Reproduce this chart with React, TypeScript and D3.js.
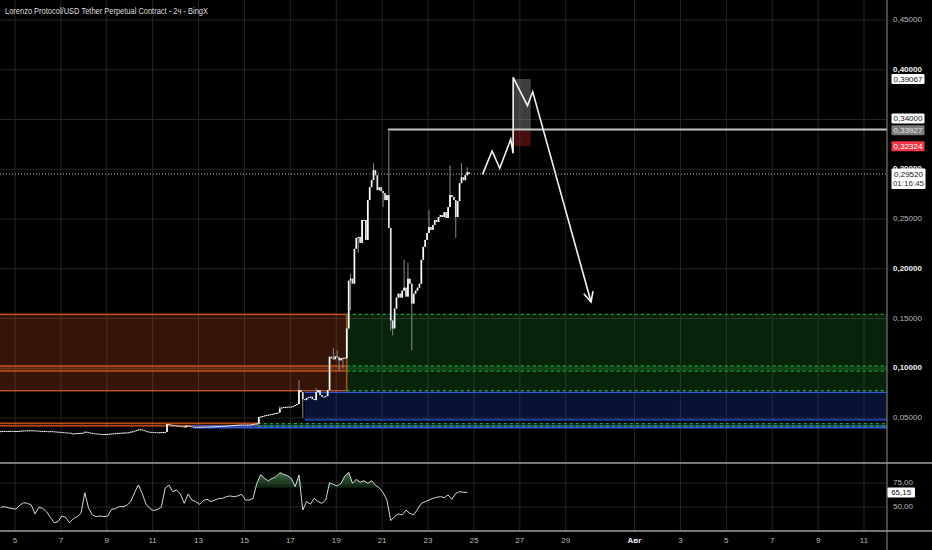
import React from "react";
import * as d3 from "d3";

const WIDTH = 932;
const HEIGHT = 550;
const AXIS_X = 887;
const PRICE_PANE_BOTTOM = 463;
const RSI_PANE_BOTTOM = 531;

const TITLE = "Lorenzo Protocol/USD Tether Perpetual Contract - 2ч - BingX";

// 2h candles, first candle opens 4 Jul 2025 08:00 UTC
const FIRST_CANDLE = Date.UTC(2025, 6, 4, 8);
const CANDLE_MS = 2 * 3600 * 1000;

const closes = [
  0.0368, 0.0370, 0.0369, 0.0367, 0.0369, 0.0371, 0.0370, 0.0368, 0.0369, 0.0370,
  0.0371, 0.0373, 0.0375, 0.0374, 0.0376, 0.0377, 0.0375, 0.0376, 0.0374, 0.0372,
  0.0371, 0.0369, 0.0368, 0.0369, 0.0367, 0.0366, 0.0368, 0.0366, 0.0364, 0.0362,
  0.0361, 0.0360, 0.0358, 0.0356, 0.0354, 0.0353, 0.0351, 0.0343, 0.0345, 0.0347,
  0.0349, 0.0350, 0.0351, 0.0352, 0.0362, 0.0358, 0.0354, 0.0350, 0.0347, 0.0345,
  0.0343, 0.0341, 0.0340, 0.0339, 0.0338, 0.0339, 0.0340, 0.0342, 0.0344, 0.0346,
  0.0348, 0.0350, 0.0351, 0.0352, 0.0353, 0.0355, 0.0354, 0.0356, 0.0362, 0.0366,
  0.0372, 0.0378, 0.0384, 0.0386, 0.0380, 0.0372, 0.0366, 0.0362, 0.0360, 0.0359,
  0.0358, 0.0357, 0.0356, 0.0357, 0.0358, 0.0359, 0.0360, 0.0440, 0.0435, 0.0430,
  0.0428, 0.0425, 0.0422, 0.0420, 0.0418, 0.0416, 0.0405, 0.0425, 0.0420, 0.0416,
  0.0413, 0.0412, 0.0411, 0.0410, 0.0411, 0.0412, 0.0413, 0.0414, 0.0413, 0.0414,
  0.0415, 0.0416, 0.0417, 0.0418, 0.0419, 0.0420, 0.0421, 0.0422, 0.0423, 0.0424,
  0.0426, 0.0428, 0.0430, 0.0431, 0.0432, 0.0433, 0.0434, 0.0433, 0.0432, 0.0434,
  0.0435, 0.0436, 0.0440, 0.0443, 0.0445, 0.0510, 0.0515, 0.0520, 0.0525, 0.0530,
  0.0533, 0.0537, 0.0540, 0.0545, 0.0550, 0.0555, 0.0595, 0.0605, 0.0610, 0.0612,
  0.0613, 0.0614, 0.0615, 0.0620, 0.0630, 0.0640, 0.0780, 0.0760, 0.0690, 0.0680,
  0.0700, 0.0710, 0.0714, 0.0690, 0.0680, 0.0760, 0.0780, 0.0730, 0.0714, 0.0712,
  0.0720, 0.0780, 0.1116, 0.1100, 0.1090, 0.1120, 0.1110, 0.1080, 0.1100, 0.1105,
  0.1100, 0.1400, 0.1880, 0.1900, 0.1850, 0.2200, 0.2310, 0.2320, 0.2260, 0.2490,
  0.2490, 0.2290, 0.2690, 0.2820, 0.2890, 0.2990, 0.2940, 0.2790, 0.2820, 0.2780,
  0.2760, 0.2690, 0.2740, 0.2410, 0.1480, 0.1400, 0.1600, 0.1710, 0.1750, 0.1710,
  0.1780, 0.1810, 0.1720, 0.1900, 0.1850, 0.1650, 0.1750, 0.1780, 0.1810, 0.1850,
  0.2090, 0.2220, 0.2290, 0.2360, 0.2420, 0.2390, 0.2440, 0.2490, 0.2470, 0.2520,
  0.2540, 0.2520, 0.2570, 0.2510, 0.2620, 0.2740, 0.2720, 0.2690, 0.2520, 0.2680,
  0.2860, 0.2920, 0.2890, 0.2940, 0.2970, 0.2952,
];

// [candle index, price] for wicks that reach beyond the body
const wickHighs: [number, number][] = [
  [146, 0.062], [156, 0.088], [165, 0.080], [174, 0.120], [176, 0.118], [183, 0.195],
  [195, 0.306], [203, 0.340], [211, 0.209], [213, 0.206], [224, 0.259], [235, 0.304],
  [241, 0.306], [244, 0.302],
];
const wickLows: [number, number][] = [
  [158, 0.050], [177, 0.097], [179, 0.100], [183, 0.158], [187, 0.216], [200, 0.262],
  [204, 0.138], [205, 0.133], [215, 0.118], [238, 0.231],
];

// RSI(14), one reading every 4h (every second candle)
const rsi4h = [
  49.7, 50.3, 49.3, 48.3, 47.9, 51.7, 54.5, 53.8, 52.1, 42.7,
  49.7, 48.6, 45.1, 39.2, 33.7, 34.7, 40.6, 39.2, 33.7, 37.8,
  39.9, 43.4, 64.9, 48.6, 41.7, 39.9, 40.6, 39.9, 40.6, 47.6,
  48.3, 50.3, 50.3, 51.7, 55.6, 64.9, 72.9, 64.2, 53.1, 48.6,
  46.2, 47.6, 49.7, 69.4, 72.9, 66.0, 67.7, 63.5, 53.8, 63.5,
  57.3, 55.6, 52.8, 56.6, 58.0, 55.6, 57.3, 58.7, 59.0, 60.8,
  61.5, 60.8, 61.5, 63.2, 57.3, 57.3, 59.0, 74.7, 83.7, 79.9,
  77.1, 79.9, 81.6, 85.8, 84.0, 82.6, 79.9, 71.2, 83.3, 46.9,
  55.6, 53.1, 59.0, 55.6, 53.8, 57.3, 75.3, 73.6, 71.9, 74.7,
  82.3, 86.1, 74.7, 78.8, 75.7, 77.4, 74.7, 77.4, 72.6, 70.1,
  64.9, 57.3, 35.8, 39.9, 42.7, 41.7, 46.8, 43.4, 41.7, 47.6,
  53.8, 55.6, 57.3, 59.0, 60.1, 60.8, 59.7, 62.5, 58.0, 64.2,
  66.0, 65.3, 65.15,
];
const RSI_UPPER = 70;

const priceTicks = [0.05, 0.1, 0.15, 0.2, 0.25, 0.3, 0.35, 0.4, 0.45];
const boldPriceTicks = [0.1, 0.2, 0.3, 0.4];
const rsiTicks = [50, 75];

const dateTickDates = [
  Date.UTC(2025, 6, 5), Date.UTC(2025, 6, 7), Date.UTC(2025, 6, 9), Date.UTC(2025, 6, 11),
  Date.UTC(2025, 6, 13), Date.UTC(2025, 6, 15), Date.UTC(2025, 6, 17), Date.UTC(2025, 6, 19),
  Date.UTC(2025, 6, 21), Date.UTC(2025, 6, 23), Date.UTC(2025, 6, 25), Date.UTC(2025, 6, 27),
  Date.UTC(2025, 6, 29), Date.UTC(2025, 7, 1), Date.UTC(2025, 7, 3), Date.UTC(2025, 7, 5),
  Date.UTC(2025, 7, 7), Date.UTC(2025, 7, 9), Date.UTC(2025, 7, 11),
];
const dateTickLabels = ["5", "7", "9", "11", "13", "15", "17", "19", "21", "23", "25", "27", "29", "Авг", "3", "5", "7", "9", "11"];

// Supply / demand zones (t0/t1 null = chart edge)
type Zone = { t0: number | null; t1: number | null; top: number; bottom: number; kind: string };
const zones: Zone[] = [
  { t0: null, t1: Date.UTC(2025, 6, 19, 11), top: 0.1542, bottom: 0.0972, kind: "orange" },
  { t0: null, t1: Date.UTC(2025, 6, 19, 11), top: 0.1023, bottom: 0.0774, kind: "orange" },
  { t0: null, t1: Date.UTC(2025, 6, 15, 14), top: 0.0448, bottom: 0.0421, kind: "orange" },
  { t0: Date.UTC(2025, 6, 19, 11), t1: null, top: 0.1542, bottom: 0.0972, kind: "green" },
  { t0: Date.UTC(2025, 6, 19, 11), t1: null, top: 0.1023, bottom: 0.0774, kind: "green" },
  { t0: Date.UTC(2025, 6, 17, 15), t1: null, top: 0.0758, bottom: 0.0482, kind: "blue" },
  { t0: Date.UTC(2025, 6, 12, 18), t1: null, top: 0.0421, bottom: 0.0402, kind: "blue" },
  { t0: Date.UTC(2025, 6, 15, 14), t1: null, top: 0.0444, bottom: 0.0416, kind: "green" },
];
const zoneStyles: Record<string, { fill: string; op: number; stroke: string; dash: string; sides: boolean }> = {
  orange: { fill: "#c8501a", op: 0.26, stroke: "#d4581e", dash: "", sides: true },
  green: { fill: "#1b8a2c", op: 0.26, stroke: "#21a03a", dash: "3,3", sides: false },
  blue: { fill: "#1c3aa8", op: 0.3, stroke: "#2f56d8", dash: "", sides: false },
};

// Position tool
const tradeStart = Date.UTC(2025, 6, 26, 17);
const tradeEnd = Date.UTC(2025, 6, 27, 11, 30);
const entryPrice = 0.33927;
const targetPrice = 0.39067;
const stopPrice = 0.32324;

const resistanceStart = Date.UTC(2025, 6, 21, 6);
const resistancePrice = 0.34;

// Projected path drawing
const projectionTimes = [
  Date.UTC(2025, 6, 25, 9), Date.UTC(2025, 6, 25, 19), Date.UTC(2025, 6, 26, 3),
  Date.UTC(2025, 6, 26, 14, 30), Date.UTC(2025, 6, 26, 17), Date.UTC(2025, 6, 26, 17),
  Date.UTC(2025, 6, 27, 8), Date.UTC(2025, 6, 27, 13, 30), Date.UTC(2025, 6, 30, 2, 30),
];
const projectionPrices = [0.2949, 0.3183, 0.301, 0.3301, 0.316, 0.3924, 0.3639, 0.3779, 0.1666];

const countdown = "01:16:45";

const fmtPrice = (v: number) => d3.format(".5f")(v).replace(".", ",");
const fmtRsi = (v: number) => d3.format(".2f")(v).replace(".", ",");

export default function App() {
  const x = d3.scaleUtc().domain([Date.UTC(2025, 6, 5), Date.UTC(2025, 7, 11)]).range([15, 864]);
  const y = d3.scaleLinear().domain([0.05, 0.45]).range([418, 20]);
  const yR = d3.scaleLinear().domain([50, 75]).range([507, 483]);

  const highMap = new Map(wickHighs);
  const lowMap = new Map(wickLows);
  const candles = closes.map((c, i) => {
    const o = i === 0 ? c : closes[i - 1];
    const h = highMap.get(i) ?? Math.max(o, c);
    const l = lowMap.get(i) ?? Math.min(o, c);
    const t = FIRST_CANDLE + i * CANDLE_MS + CANDLE_MS / 2;
    return { t, o, h, l, c };
  });
  const lastClose = closes[closes.length - 1];

  const rsiPts = rsi4h.map((v, k) => ({ t: FIRST_CANDLE + 2 * k * CANDLE_MS + CANDLE_MS / 2, v }));
  const rsiLine = d3.line<{ t: number; v: number }>().x((d) => x(d.t)).y((d) => yR(d.v))(rsiPts) || "";
  const rsiArea =
    d3
      .area<{ t: number; v: number }>()
      .x((d) => x(d.t))
      .y0(yR(RSI_UPPER))
      .y1((d) => yR(Math.max(d.v, RSI_UPPER)))(rsiPts) || "";
  const lastRsi = rsi4h[rsi4h.length - 1];

  const projPts: [number, number][] = projectionTimes.map((t, i) => [x(t), y(projectionPrices[i])]);
  const projPath = d3.line()(projPts) || "";
  const tip = projPts[projPts.length - 1];
  const prev = projPts[projPts.length - 2];
  const ang = Math.atan2(tip[1] - prev[1], tip[0] - prev[0]);
  const arm = 11;
  const a1: [number, number] = [tip[0] - arm * Math.cos(ang - 0.45), tip[1] - arm * Math.sin(ang - 0.45)];
  const a2: [number, number] = [tip[0] - arm * Math.cos(ang + 0.45), tip[1] - arm * Math.sin(ang + 0.45)];
  const arrowPath = d3.line()([a1, tip, a2]) || "";

  const font = "'Liberation Sans', Arial, sans-serif";
  const gridColor = "#252525";

  const labelBox = (price: number, shift: number, fill: string, color: string, key: string) => (
    <g key={key}>
      <rect x={891.5} y={y(price) + shift - 5} width={33} height={10} fill={fill} rx={1} />
      <text x={908} y={y(price) + shift + 0.5} fill={color} fontSize={8} textAnchor="middle" dominantBaseline="middle" fontFamily={font}>
        {fmtPrice(price)}
      </text>
    </g>
  );

  return (
    <div style={{ position: "fixed", left: 0, top: 0, width: WIDTH, height: HEIGHT, background: "#000" }}>
      <svg width={WIDTH} height={HEIGHT} style={{ display: "block" }}>
        <defs>
          <clipPath id="pricePane">
            <rect x={0} y={0} width={AXIS_X} height={PRICE_PANE_BOTTOM} />
          </clipPath>
          <clipPath id="rsiPane">
            <rect x={0} y={PRICE_PANE_BOTTOM} width={AXIS_X} height={RSI_PANE_BOTTOM - PRICE_PANE_BOTTOM} />
          </clipPath>
          <linearGradient id="rsiFill" gradientUnits="userSpaceOnUse" x1={0} x2={0} y1={yR(88)} y2={yR(RSI_UPPER)}>
            <stop offset="0" stopColor="#4f8f5a" stopOpacity={0.95} />
            <stop offset="1" stopColor="#1c3f22" stopOpacity={0.5} />
          </linearGradient>
        </defs>
        <rect x={0} y={0} width={WIDTH} height={HEIGHT} fill="#000" />

        {/* vertical grid */}
        {dateTickDates.map((d, i) => (
          <line key={"vg" + i} x1={x(d)} x2={x(d)} y1={0} y2={RSI_PANE_BOTTOM} stroke={gridColor} strokeWidth={1} />
        ))}
        {/* horizontal grid */}
        {priceTicks.map((p, i) => (
          <line key={"hg" + i} x1={0} x2={AXIS_X} y1={y(p)} y2={y(p)} stroke={gridColor} strokeWidth={1} />
        ))}
        {rsiTicks.map((v, i) => (
          <line key={"rg" + i} x1={0} x2={AXIS_X} y1={yR(v)} y2={yR(v)} stroke={gridColor} strokeWidth={1} />
        ))}

        <g clipPath="url(#pricePane)">
          {/* zones */}
          {zones.map((z, i) => {
            const st = zoneStyles[z.kind];
            const x0 = z.t0 === null ? -2 : x(z.t0);
            const x1 = z.t1 === null ? AXIS_X + 2 : x(z.t1);
            const yt = y(z.top);
            const yb = y(z.bottom);
            return (
              <g key={"z" + i}>
                <rect x={x0} y={yt} width={x1 - x0} height={yb - yt} fill={st.fill} fillOpacity={st.op} />
                {st.sides ? (
                  <rect x={x0} y={yt} width={x1 - x0} height={yb - yt} fill="none" stroke={st.stroke} strokeWidth={1.3} />
                ) : (
                  <g>
                    <line x1={x0} x2={x1} y1={yt} y2={yt} stroke={st.stroke} strokeWidth={1.3} strokeDasharray={st.dash || undefined} />
                    <line x1={x0} x2={x1} y1={yb} y2={yb} stroke={st.stroke} strokeWidth={1.3} strokeDasharray={st.dash || undefined} />
                  </g>
                )}
              </g>
            );
          })}

          {/* last price dotted line */}
          <line x1={0} x2={AXIS_X} y1={y(lastClose)} y2={y(lastClose)} stroke="#b8b8b8" strokeWidth={1} strokeDasharray="1,2" />

          {/* position tool */}
          <rect x={x(tradeStart)} y={y(targetPrice)} width={x(tradeEnd) - x(tradeStart)} height={y(entryPrice) - y(targetPrice)} fill="#8a8a8a" fillOpacity={0.45} />
          <rect x={x(tradeStart)} y={y(entryPrice)} width={x(tradeEnd) - x(tradeStart)} height={y(stopPrice) - y(entryPrice)} fill="#8a1a1a" fillOpacity={0.5} />

          {/* resistance line */}
          <line x1={x(resistanceStart)} x2={AXIS_X} y1={y(resistancePrice)} y2={y(resistancePrice)} stroke="#c4c4c4" strokeWidth={2} />

          {/* candles */}
          {candles.map((k, i) => {
            const cx = x(k.t);
            const top = y(Math.max(k.o, k.c));
            const bot = y(Math.min(k.o, k.c));
            const up = k.c >= k.o;
            return (
              <g key={"c" + i}>
                <line x1={cx} x2={cx} y1={y(k.h)} y2={y(k.l)} stroke="#8a8a8a" strokeWidth={1} />
                <rect x={cx - 0.85} y={top} width={1.7} height={Math.max(bot - top, 1)} fill={up ? "#ffffff" : "#e0e0e0"} />
              </g>
            );
          })}

          {/* projection */}
          <path d={projPath} fill="none" stroke="#f2f2f2" strokeWidth={1.6} strokeLinejoin="miter" />
          <path d={arrowPath} fill="none" stroke="#f2f2f2" strokeWidth={1.6} />
        </g>

        {/* title */}
        <text x={5} y={14} fill="#dedede" fontSize={8.4} fontFamily={font} textLength={203} lengthAdjust="spacingAndGlyphs">
          {TITLE}
        </text>

        {/* RSI */}
        <g clipPath="url(#rsiPane)">
          <path d={rsiArea} fill="url(#rsiFill)" />
          <path d={rsiLine} fill="none" stroke="#d6d6d6" strokeWidth={1} />
        </g>

        {/* pane separators and axis line */}
        <line x1={0} x2={WIDTH} y1={PRICE_PANE_BOTTOM} y2={PRICE_PANE_BOTTOM} stroke="#9c9c9c" strokeWidth={1.5} />
        <line x1={0} x2={WIDTH} y1={RSI_PANE_BOTTOM} y2={RSI_PANE_BOTTOM} stroke="#9c9c9c" strokeWidth={1.5} />
        <line x1={AXIS_X} x2={AXIS_X} y1={0} y2={HEIGHT} stroke="#8c8c8c" strokeWidth={1} />

        {/* price axis labels */}
        {priceTicks.map((p, i) => {
          const bold = boldPriceTicks.includes(p);
          return (
            <text
              key={"pl" + i}
              x={893}
              y={y(p)}
              fill={bold ? "#f0f0f0" : "#b8b8b8"}
              fontWeight={bold ? "bold" : "normal"}
              fontSize={8}
              dominantBaseline="middle"
              fontFamily={font}
            >
              {fmtPrice(p)}
            </text>
          );
        })}
        {labelBox(targetPrice, 0, "#ffffff", "#111", "lt")}
        {labelBox(resistancePrice, -11, "#ffffff", "#111", "lr")}
        {labelBox(entryPrice, 0, "#7c7c7c", "#e6e6e6", "le")}
        {labelBox(stopPrice, 0, "#f23645", "#ffffff", "ls")}
        <g>
          <rect x={891.5} y={y(lastClose) - 5.5} width={34} height={20.5} fill="#ffffff" rx={1} />
          <text x={908.5} y={y(lastClose) + 0.5} fill="#111" fontSize={8} textAnchor="middle" dominantBaseline="middle" fontFamily={font}>
            {fmtPrice(lastClose)}
          </text>
          <text x={908.5} y={y(lastClose) + 10} fill="#333" fontSize={8} textAnchor="middle" dominantBaseline="middle" fontFamily={font}>
            {countdown}
          </text>
        </g>

        {/* RSI axis */}
        {rsiTicks.map((v, i) => (
          <text key={"rl" + i} x={893} y={yR(v)} fill="#b8b8b8" fontSize={8} dominantBaseline="middle" fontFamily={font}>
            {fmtRsi(v)}
          </text>
        ))}
        <rect x={887.5} y={yR(lastRsi) - 5} width={27.5} height={10} fill="#ffffff" rx={1} />
        <text x={901.2} y={yR(lastRsi) + 0.5} fill="#111" fontSize={8} textAnchor="middle" dominantBaseline="middle" fontFamily={font}>
          {fmtRsi(lastRsi)}
        </text>

        {/* date axis */}
        {dateTickDates.map((d, i) => {
          const bold = dateTickLabels[i] === "Авг";
          return (
            <text
              key={"dl" + i}
              x={x(d)}
              y={541}
              fill={bold ? "#e8e8e8" : "#b8b8b8"}
              fontWeight={bold ? "bold" : "normal"}
              fontSize={8}
              textAnchor="middle"
              dominantBaseline="middle"
              fontFamily={font}
            >
              {dateTickLabels[i]}
            </text>
          );
        })}
      </svg>
    </div>
  );
}
